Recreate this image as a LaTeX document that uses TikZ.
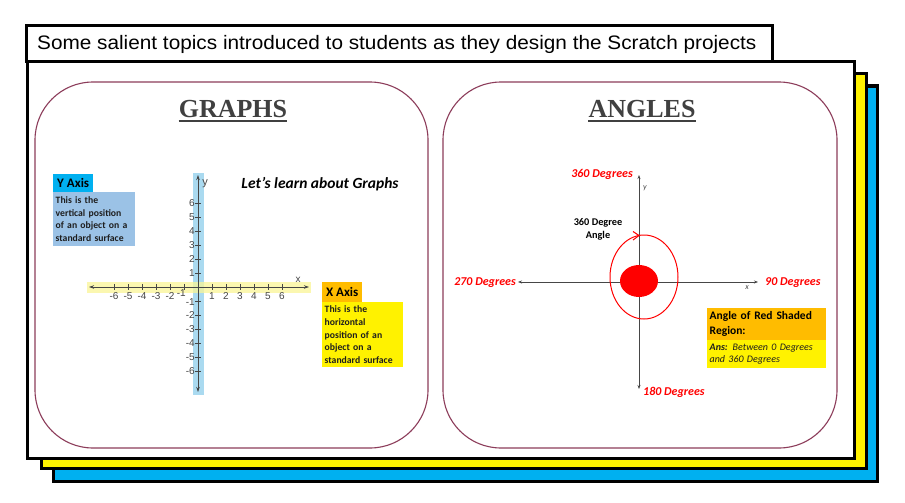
\documentclass[tikz,border=0pt]{standalone}
\usepackage{fontspec}
\setmainfont{Liberation Serif}
\newfontfamily\calfont{Carlito}
\newfontfamily\arialfont{Liberation Sans}
\usetikzlibrary{arrows.meta}
\definecolor{panelc}{RGB}{140,60,90}
\definecolor{cyanb}{RGB}{0,176,240}
\definecolor{ltblue}{RGB}{155,194,230}
\definecolor{ystrip}{RGB}{250,245,150}
\definecolor{bstrip}{RGB}{170,218,240}
\definecolor{orangeb}{RGB}{255,188,0}
\definecolor{axgray}{RGB}{70,70,70}
\definecolor{titlegray}{RGB}{64,64,64}
\definecolor{txtdark}{RGB}{30,30,30}
\tikzset{
  frame/.style={line width=3pt},
  panel/.style={draw=panelc, line width=1.1pt, rounded corners=58pt},
  bigtitle/.style={font=\bfseries\fontsize{26}{28}\selectfont, text=titlegray, inner sep=0pt},
  graxis/.style={draw=axgray, line width=0.8pt, {Stealth[length=5pt,width=3.5pt]}-{Stealth[length=5pt,width=3.5pt]}},
  tick/.style={draw=axgray, line width=0.6pt},
  ticklbl/.style={font=\arialfont\fontsize{10}{10}\selectfont, text=axgray, inner sep=1pt},
  lblbox/.style={anchor=north west, inner xsep=2pt, inner ysep=1pt, font=\calfont\bfseries\fontsize{13}{14}\selectfont, align=left},
  descbox/.style={anchor=north west, inner xsep=2.5pt, inner ysep=3pt, font=\calfont\bfseries\fontsize{9.7}{12.6}\selectfont, text=txtdark, align=left},
  redlbl/.style={font=\calfont\bfseries\itshape\fontsize{12}{12}\selectfont, text=red, inner sep=1pt},
  angaxis/.style={draw=axgray, line width=0.7pt, {Stealth[length=4pt,width=3pt]}-{Stealth[length=4pt,width=3pt]}},
}
\begin{document}
\begin{tikzpicture}[x=1pt,y=-1pt]
\useasboundingbox (0,0) rectangle (905,503);
\fill[white] (0,0) rectangle (905,503);
% stacked frames
\draw[frame, fill=cyanb] (53,86) rectangle (877,481);
\draw[frame, fill=yellow] (41,74) rectangle (866,468);
\draw[frame, fill=white] (27,62) rectangle (854,458);
\draw[frame, fill=white] (26,26) rectangle (772,62);
\node[anchor=west, font=\arialfont\fontsize{19.5}{21}\selectfont, inner sep=0pt] (ttl) at (37,44.5)
  {\scalebox{1.065}[1]{Some salient topics introduced to students as they design the Scratch projects}};
% panels
\draw[panel] (35,82) rectangle (428,448);
\draw[panel] (443,82) rectangle (837,448);
% ---------- GRAPHS ----------
\node[bigtitle] (gtitle) at (233,109) {GRAPHS};
\draw[titlegray, line width=1.1pt] ([yshift=-3.5pt]gtitle.base west) -- ([yshift=-3.5pt]gtitle.base east);
\fill[bstrip] (193,173) rectangle (204,395);
\fill[ystrip, opacity=0.75] (87,282) rectangle (311,293);
\coordinate (xl) at (89,287);
\coordinate (xr) at (309,287);
\coordinate (yt) at (198,175);
\coordinate (yb) at (198,392);
\draw[graxis] (xl) -- (xr);
\draw[graxis] (yt) -- (yb);
\foreach \i in {-6,...,-1,1,2,3,4,5,6}{
  \draw[tick] (198+14*\i,284) -- (198+14*\i,290);
  \draw[tick] (195,287-14*\i) -- (201,287-14*\i);
}
\foreach \i in {-6,...,-2,1,2,3,4,5,6}{
  \node[ticklbl, anchor=east] (yl\i) at (196,287-14*\i) {\i};
}
\node[ticklbl, anchor=east] (ylm1) at (196,302) {-1};
\foreach \i in {-6,-5,-4,-3,-2,1,2,3,4,5,6}{
  \node[ticklbl] (xlb\i) at (198+14*\i,296.5) {\i};
}
\node[ticklbl, anchor=east] (xlbm1) at (187,293.5) {-1};
\node[ticklbl] (xname) at (298,280) {x};
\node[ticklbl, font=\arialfont\fontsize{11}{11}\selectfont] (yname) at (205,184) {y};
\node[font=\calfont\bfseries\itshape\fontsize{15.5}{16}\selectfont, inner sep=0pt] (learn) at (320,184) {Let’s learn about Graphs};
\node[lblbox, fill=cyanb, minimum width=40pt, minimum height=18pt] (yax) at (53,174) {Y Axis};
\node[descbox, fill=ltblue, text width=77pt, minimum height=54pt] (ydesc) at (53,192)
  {This is the\\vertical position\\of an object on a\\standard surface};
\node[lblbox, fill=orangeb, minimum width=40pt, minimum height=20pt] (xax) at (322,282) {X Axis};
\node[descbox, fill=yellow, text width=76pt, minimum height=65pt] (xdesc) at (322,302)
  {This is the\\horizontal\\position of an\\object on a\\standard surface};
% ---------- ANGLES ----------
\node[bigtitle] (atitle) at (642,109) {ANGLES};
\draw[titlegray, line width=1.1pt] ([yshift=-3.5pt]atitle.base west) -- ([yshift=-3.5pt]atitle.base east);
\coordinate (ryt) at (639,175);
\coordinate (ryb) at (639,389);
\coordinate (rxl) at (518,282);
\coordinate (rxr) at (758,282);
\draw[angaxis] (rxl) -- (rxr);
\draw[angaxis] (ryt) -- (ryb);
\fill[red] (639,281) ellipse [x radius=19, y radius=16];
\draw[red, line width=1pt] (644,277) ellipse [x radius=34, y radius=42];
\draw[red, line width=1pt] (633,231.5) -- (639,235.5) -- (633,240);
\node[redlbl, anchor=east] (d360) at (634,174) {360 Degrees};
\node[redlbl, anchor=west] (d90) at (764,283) {90 Degrees};
\node[redlbl, anchor=east] (d270) at (517,283) {270 Degrees};
\node[redlbl, anchor=west] (d180) at (642,392) {180 Degrees};
\node[font=\calfont\itshape\fontsize{8}{8}\selectfont, text=axgray, inner sep=0pt] (ry) at (645,188) {y};
\node[font=\calfont\itshape\fontsize{8}{8}\selectfont, text=axgray, inner sep=0pt] (rx) at (747,288) {x};
\node[font=\calfont\bfseries\fontsize{10.3}{12.5}\selectfont, align=center, inner sep=0pt] (ang360) at (598,229.5) {360 Degree\\Angle};
\node[anchor=north west, fill=orangeb, text width=114pt, minimum height=32pt, inner xsep=2.5pt, inner ysep=2pt, align=left,
  font=\calfont\bfseries\fontsize{11.5}{14.7}\selectfont] (redq) at (707,308) {Angle of Red Shaded\\Region:};
\node[anchor=north west, fill=yellow, text width=114pt, minimum height=28pt, inner xsep=2.5pt, inner ysep=2pt, align=left,
  font=\calfont\itshape\fontsize{10}{12.5}\selectfont, text=txtdark] (ans) at (707,340) {\textbf{Ans:} Between 0 Degrees\\and 360 Degrees};
\end{tikzpicture}
\end{document}
